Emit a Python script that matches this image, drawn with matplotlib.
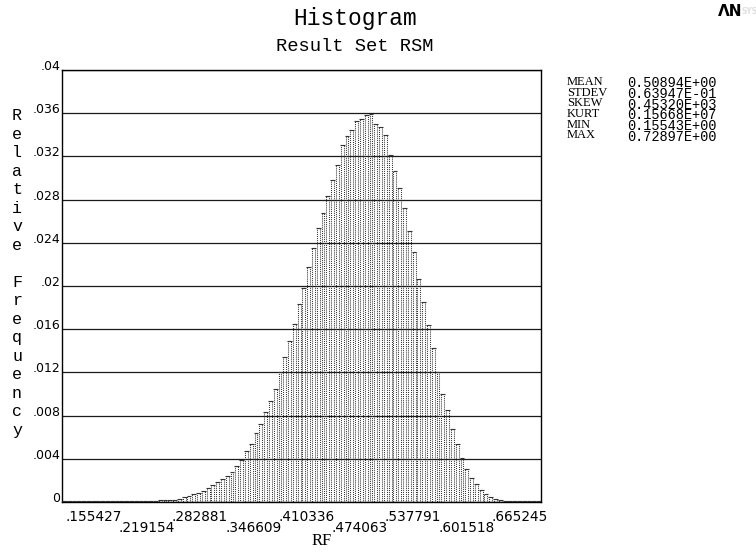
import numpy as np
import matplotlib.pyplot as plt

# Statistiques du jeu de résultats (RF)
stat_names = ['MEAN', 'STDEV', 'SKEW', 'KURT', 'MIN', 'MAX']
stat_values = ['0.50894E+00', '0.63947E-01', '0.45320E+03',
               '0.15668E+07', '0.15543E+00', '0.72897E+00']
rf_min = 0.155427
rf_max = 0.728972

# Fréquences relatives des 100 classes
rel_freq = [
    0.00008, 0.00008, 0.00008, 0.00008, 0.00008, 0.00008, 0.00008, 0.00008, 0.00008, 0.00008,
    0.00008, 0.00008, 0.00010, 0.00010, 0.00010, 0.00010, 0.00010, 0.00011, 0.00012, 0.00013,
    0.00014, 0.00016, 0.00019, 0.00023, 0.00030, 0.00044, 0.00056, 0.00071, 0.00086, 0.00102,
    0.00127, 0.00157, 0.00188, 0.00210, 0.00244, 0.00281, 0.00333, 0.00389, 0.00472, 0.00537,
    0.00636, 0.00719, 0.00836, 0.00938, 0.01043, 0.01201, 0.01340, 0.01494, 0.01648, 0.01833,
    0.01979, 0.02179, 0.02349, 0.02534, 0.02679, 0.02836, 0.02981, 0.03120, 0.03305, 0.03389,
    0.03444, 0.03528, 0.03546, 0.03583, 0.03593, 0.03500, 0.03469, 0.03398, 0.03213, 0.03068,
    0.02905, 0.02719, 0.02512, 0.02318, 0.02065, 0.01849, 0.01639, 0.01423, 0.01207, 0.01000,
    0.00852, 0.00673, 0.00537, 0.00405, 0.00303, 0.00219, 0.00164, 0.00111, 0.00074, 0.00043,
    0.00028, 0.00014, 0.00011, 0.00010, 0.00009, 0.00008, 0.00008, 0.00008, 0.00008, 0.00008,
]

x_ticks = [0.155427, 0.219154, 0.282881, 0.346609, 0.410336,
           0.474063, 0.537791, 0.601518, 0.665245]
x_labels = ['.155427', '.219154', '.282881', '.346609', '.410336',
            '.474063', '.537791', '.601518', '.665245']
y_ticks = [0, 0.004, 0.008, 0.012, 0.016, 0.02, 0.024, 0.028, 0.032, 0.036, 0.04]
y_labels = ['0', '.004', '.008', '.012', '.016', '.02', '.024', '.028', '.032', '.036', '.04']

W, H = 756, 553
fig = plt.figure(figsize=(W / 100, H / 100), dpi=100)
L, R, T, B = 62, 541, 70, 502
ax = fig.add_axes([L / W, 1 - B / H, (R - L) / W, (B - T) / H])

edges = np.linspace(rf_min, rf_max, len(rel_freq) + 1)
bw = edges[1] - edges[0]

# grille horizontale
for v in y_ticks:
    ax.axhline(v, color='#1a1a1a', lw=0.9, zorder=1)

# barres : côtés en pointillés, dessus plein
ax.bar(edges[:-1] + 0.2 * bw, rel_freq, width=0.6 * bw, align='edge', fill=False,
       edgecolor='#333333', linewidth=0.75, linestyle=(0, (1, 1)), zorder=2)
ax.hlines(rel_freq, edges[:-1], edges[1:], color='#333333', lw=0.8, zorder=3)

ax.set_xlim(rf_min, rf_max)
ax.set_ylim(0, 0.04)
for s in ax.spines.values():
    s.set_color('black')
    s.set_linewidth(1.0)

ax.set_xticks([])
ax.set_yticks(y_ticks)
ax.set_yticklabels(y_labels, family='DejaVu Sans', fontsize=9)
ax.tick_params(axis='y', length=0, pad=1)
for lab in ax.get_yticklabels():
    lab.set_verticalalignment('baseline')

# étiquettes en x sur deux rangées
for i, (v, lab) in enumerate(zip(x_ticks, x_labels)):
    dy = -11 if i % 2 == 0 else -19
    ax.annotate(lab, xy=(v, 0), xycoords=('data', 'axes fraction'),
                xytext=(2.5, dy), textcoords='offset points', ha='left', va='center',
                family='DejaVu Sans', fontsize=9.8)

fig.text(322 / W, 1 - 541 / H, 'RF', ha='center', va='center',
         family='Liberation Serif', fontsize=12)

# axe y : lettres empilées
fig.text(17 / W, 1 - 273 / H, '\n'.join('Relative Frequency'), ha='center', va='center',
         family='Liberation Mono', fontsize=12, linespacing=1.29)

fig.text(355 / W, 1 - 19 / H, 'Histogram', ha='center', va='center',
         family='Liberation Mono', fontsize=16.5)
fig.text(355 / W, 1 - 47 / H, 'Result Set RSM', ha='center', va='center',
         family='Liberation Mono', fontsize=13.5)

fig.text(567 / W, 1 - 76 / H, '\n'.join(stat_names), ha='left', va='top',
         family='Liberation Serif', fontsize=9, linespacing=0.85)
fig.text(627 / W, 1 - 76 / H, '\n'.join(stat_values), ha='left', va='top',
         family='Liberation Mono', fontsize=9.8, linespacing=0.71)

fig.text(718 / W, 1 - 12 / H, '\u039bN', ha='left', va='center', fontsize=11,
         fontweight='bold', family='DejaVu Sans')
fig.text(741 / W, 1 - 12 / H, 'SYS', ha='left', va='center', fontsize=5.5,
         fontweight='bold', family='DejaVu Sans', color='#e0e0e0')

fig.savefig('out.png', dpi=100)
